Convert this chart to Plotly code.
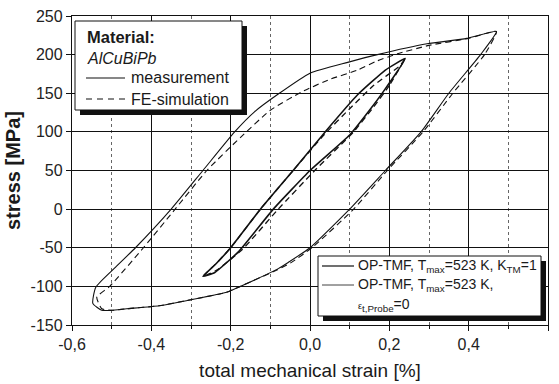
import plotly.graph_objects as go

# ---------------- data ----------------
# outer loop, measurement (solid): from peak down the unloading branch, round the
# lower-left corner and back up the loading branch to the peak
outer_meas_strain = [0.47, 0.43, 0.35, 0.28, 0.19, 0.10, 0.0, -0.055, -0.08, -0.18, -0.2125,
                     -0.2975, -0.38, -0.4625, -0.50, -0.525, -0.5475, -0.54,
                     -0.49, -0.44, -0.35, -0.27, -0.19, -0.14, -0.08, 0.0, 0.095, 0.17,
                     0.295, 0.395, 0.47]
outer_meas_stress = [230, 200, 150, 100, 50, 0, -50, -69, -77, -101, -108,
                     -117, -125, -129, -131, -131, -122, -101,
                     -75, -50, 0, 50, 100, 126, 149, 176, 190, 200,
                     214, 221, 230]

# outer loop, FE-simulation (dashed)
outer_fe_strain = [0.47, 0.44, 0.36, 0.285, 0.195, 0.11, 0.005, -0.05, -0.08, -0.18, -0.2125,
                   -0.2975, -0.38, -0.4625, -0.50, -0.525, -0.5375, -0.505,
                   -0.42, -0.34, -0.26, -0.175, -0.10, -0.02, 0.05, 0.12, 0.17,
                   0.22, 0.30, 0.40, 0.47]
outer_fe_stress = [230, 200, 150, 100, 50, 0, -50, -70, -78, -101, -108,
                   -117, -125, -129, -131, -129, -114, -100,
                   -50, 0, 50, 93, 128, 152, 168, 180, 192,
                   201, 212, 221, 230]

# inner loop, measurement (solid)
inner_meas_strain = [0.24, 0.1875, 0.15, 0.10, 0.0, -0.0925, -0.18, -0.24, -0.27,
                     -0.2375, -0.2, -0.125, -0.0425, 0.035, 0.12, 0.19, 0.24]
inner_meas_stress = [195, 154, 128, 96, 50, 0, -55, -82, -87,
                     -71, -50, 0, 50, 98, 148, 180, 195]

# inner loop, FE-simulation (dashed)
inner_fe_strain = [0.24, 0.20, 0.16, 0.11, 0.012, -0.08, -0.17, -0.235, -0.27,
                   -0.2375, -0.2, -0.125, -0.0425, 0.035, 0.10, 0.16, 0.2275, 0.24]
inner_fe_stress = [195, 160, 132, 100, 50, 0, -52, -79, -87,
                   -71, -50, 0, 50, 96, 130, 160, 186, 195]

x_ticks = [-0.6, -0.4, -0.2, 0.0, 0.2, 0.4, 0.6]
x_ticklabels = ["-0,6", "-0,4", "-0,2", "0,0", "0,2", "0,4", "0,6"]
x_minor_ticks = [-0.5, -0.3, -0.1, 0.1, 0.3, 0.5]
y_ticks = [-150, -100, -50, 0, 50, 100, 150, 200, 250]
y_ticklabels = ["-150", "-100", "-50", "0", "50", "100", "150", "200", "250"]

# ---------------- layout helpers ----------------
W, H = 559, 384
L, R, T, B = 72, 548, 16, 325


def px(x):
    return (x - L) / (R - L)


def py(y):
    return (B - y) / (B - T)


FONT = "Liberation Sans, Arial, sans-serif"
TXT = "#1a1a1a"

fig = go.Figure()

fig.add_trace(go.Scatter(x=outer_meas_strain, y=outer_meas_stress, mode="lines",
                         line=dict(color="#111", width=1.1, shape="spline", smoothing=0.5),
                         showlegend=False, name="measurement"))
fig.add_trace(go.Scatter(x=outer_fe_strain, y=outer_fe_stress, mode="lines",
                         line=dict(color="#111", width=1.1, dash="6px,4px",
                                   shape="spline", smoothing=0.5),
                         showlegend=False, name="FE-simulation"))
fig.add_trace(go.Scatter(x=inner_meas_strain, y=inner_meas_stress, mode="lines",
                         line=dict(color="#111", width=1.6, shape="spline", smoothing=0.4),
                         showlegend=False, name="measurement inner"))
fig.add_trace(go.Scatter(x=inner_fe_strain, y=inner_fe_stress, mode="lines",
                         line=dict(color="#111", width=1.3, dash="6px,4px",
                                   shape="spline", smoothing=0.4),
                         showlegend=False, name="FE-simulation inner"))

shapes = []
annotations = []


def box(x0, y0, x1, y1, sh=5):
    shapes.append(dict(type="rect", xref="paper", yref="paper", layer="above",
                       x0=px(x0 + sh), x1=px(x1 + sh), y0=py(y0 + sh), y1=py(y1 + sh),
                       fillcolor="#111", line=dict(width=0)))
    shapes.append(dict(type="rect", xref="paper", yref="paper", layer="above",
                       x0=px(x0), x1=px(x1), y0=py(y0), y1=py(y1),
                       fillcolor="white", line=dict(color="#111", width=1)))


def sample(x0, x1, y, dash="solid", width=1.2):
    shapes.append(dict(type="line", xref="paper", yref="paper", layer="above",
                       x0=px(x0), x1=px(x1), y0=py(y), y1=py(y),
                       line=dict(color="#111", width=width, dash=dash)))


def label(x, y, text, size=16):
    annotations.append(dict(xref="paper", yref="paper", x=px(x), y=py(y), text=text,
                            showarrow=False, xanchor="left", yanchor="middle",
                            font=dict(family=FONT, size=size, color=TXT)))


# legend 1
box(75, 21, 242, 110)
label(85, 37, "<b>Material:</b>", size=16.5)
label(85, 58, "<i>AlCuBiPb</i>")
sample(86, 125, 78)
label(129, 78, "measurement")
sample(86, 125, 99, dash="6px,5px")
label(129, 99, "FE-simulation")

# legend 2
box(318, 256, 541, 316)
sample(322, 354, 266, width=1.2)
label(356, 266, "OP-TMF, T<sub>max</sub>=523 K, K<sub>TM</sub>=1", size=14)
sample(322, 354, 285, width=0.8)
label(356, 285, "OP-TMF, T<sub>max</sub>=523 K,", size=14)
label(356, 305, "<span style='font-size:9px'>ε</span><sub>t,Probe</sub>=0", size=14)

fig.update_layout(
    width=W, height=H,
    margin=dict(l=L, r=W - R, t=T, b=H - B, autoexpand=False),
    paper_bgcolor="white", plot_bgcolor="white",
    font=dict(family=FONT, color=TXT),
    showlegend=False,
    shapes=shapes, annotations=annotations,
    xaxis=dict(range=[-0.6, 0.6], tickmode="array", tickvals=x_ticks, ticktext=x_ticklabels,
               showgrid=True, gridcolor="#111", gridwidth=1.2, zeroline=False,
               showline=True, linecolor="#111", linewidth=1.3, mirror=True,
               ticks="outside", ticklen=5, tickcolor="#111", tickwidth=1.2,
               tickfont=dict(family=FONT, size=16, color="#222"),
               minor=dict(tickmode="array", tickvals=x_minor_ticks, showgrid=True,
                          gridcolor="#666", griddash="dot", gridwidth=1,
                          ticks="outside", ticklen=3, tickcolor="#111"),
               title=dict(text="total mechanical strain [%]", standoff=11,
                          font=dict(family=FONT, size=19, color=TXT))),
    yaxis=dict(range=[-150, 250], tickmode="array", tickvals=y_ticks, ticktext=y_ticklabels,
               showgrid=True, gridcolor="#111", gridwidth=1.2, zeroline=False,
               showline=True, linecolor="#111", linewidth=1.3, mirror=True,
               ticks="outside", ticklen=5, tickcolor="#111", tickwidth=1.2,
               tickfont=dict(family=FONT, size=16, color="#222"),
               title=dict(text="<b>stress [MPa]</b>", standoff=4,
                          font=dict(family=FONT, size=20, color=TXT))),
)

fig.write_html("out.html")
